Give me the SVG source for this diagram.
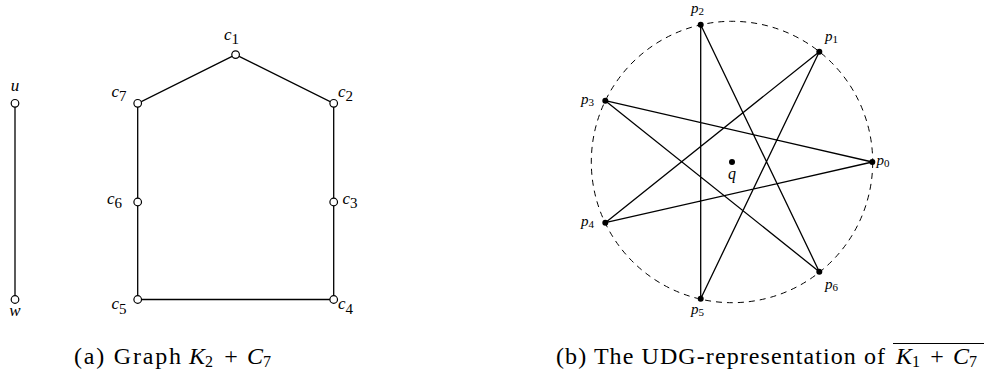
<svg xmlns="http://www.w3.org/2000/svg" width="984" height="372" viewBox="0 0 984 372">
<style>
  .e { stroke: #000; stroke-width: 1.3; fill: none; }
  .o { fill: #fff; stroke: #000; stroke-width: 1.2; }
  .f { fill: #000; }
  .lbl { font-family: "Liberation Serif", "DejaVu Serif", serif; font-style: italic; font-size: 17px; fill: #000; }
  .sub { font-style: normal; font-size: 15px; }
  .pl { font-size: 15px; }
  .ps { font-style: normal; font-size: 11px; }
  .cap { font-family: "Liberation Serif", "DejaVu Serif", serif; font-size: 24px; fill: #000; }
  .it { font-style: italic; }
  .cps { font-size: 16px; }
  .cs { font-size: 16px; }
</style>
<rect width="984" height="372" fill="#fff"/>
<g id="edges-a">
  <line class="e" x1="15" y1="103.3" x2="15" y2="299.5"/>
  <polyline class="e" points="235.6,54.6 333.7,103.3 333.7,299.5 137.7,299.5 137.7,103.3 235.6,54.6"/>
</g>
<g id="edges-b">
  <circle cx="732" cy="162" r="140.7" fill="none" stroke="#000" stroke-width="1" stroke-dasharray="6,5"/>
  <polygon class="e" points="872.3,162 605.3,100.7 819.3,271.7 700.7,24.7 700.7,298.7 819.3,51.7 605.3,222.7"/>
</g>
<g id="u"><circle class="o" cx="15" cy="103.3" r="3.8"/><text class="lbl" x="15" y="91" text-anchor="middle">u</text></g>
<g id="w"><circle class="o" cx="15" cy="299.5" r="3.8"/><text class="lbl" x="15" y="316" text-anchor="middle">w</text></g>
<g id="c1"><circle class="o" cx="235.6" cy="54.6" r="3.8"/><text class="lbl" x="224" y="40">c<tspan class="sub" dy="4">1</tspan></text></g>
<g id="c2"><circle class="o" cx="333.7" cy="103.3" r="3.8"/><text class="lbl" x="338" y="97">c<tspan class="sub" dy="4">2</tspan></text></g>
<g id="c3"><circle class="o" cx="333.7" cy="202" r="3.8"/><text class="lbl" x="342.5" y="204">c<tspan class="sub" dy="4">3</tspan></text></g>
<g id="c4"><circle class="o" cx="333.7" cy="299.5" r="3.8"/><text class="lbl" x="338" y="309">c<tspan class="sub" dy="5">4</tspan></text></g>
<g id="c5"><circle class="o" cx="137.7" cy="299.5" r="3.8"/><text class="lbl" x="111.5" y="309">c<tspan class="sub" dy="5">5</tspan></text></g>
<g id="c6"><circle class="o" cx="137.7" cy="202" r="3.8"/><text class="lbl" x="107" y="204">c<tspan class="sub" dy="4">6</tspan></text></g>
<g id="c7"><circle class="o" cx="137.7" cy="103.3" r="3.8"/><text class="lbl" x="111.5" y="97">c<tspan class="sub" dy="4">7</tspan></text></g>
<g id="p0"><circle class="f" cx="872.3" cy="162" r="3"/><text class="lbl pl" x="876.5" y="165">p<tspan class="ps" dy="2">0</tspan></text></g>
<g id="p1"><circle class="f" cx="819.3" cy="51.7" r="3"/><text class="lbl pl" x="825" y="41">p<tspan class="ps" dy="2">1</tspan></text></g>
<g id="p2"><circle class="f" cx="700.7" cy="24.7" r="3"/><text class="lbl pl" x="691" y="13">p<tspan class="ps" dy="2">2</tspan></text></g>
<g id="p3"><circle class="f" cx="605.3" cy="100.7" r="3"/><text class="lbl pl" x="581" y="104">p<tspan class="ps" dy="2">3</tspan></text></g>
<g id="p4"><circle class="f" cx="605.3" cy="222.7" r="3"/><text class="lbl pl" x="581" y="226">p<tspan class="ps" dy="2">4</tspan></text></g>
<g id="p5"><circle class="f" cx="700.7" cy="298.7" r="3"/><text class="lbl pl" x="691" y="314">p<tspan class="ps" dy="2">5</tspan></text></g>
<g id="p6"><circle class="f" cx="819.3" cy="271.7" r="3"/><text class="lbl pl" x="825" y="289">p<tspan class="ps" dy="2">6</tspan></text></g>
<g id="q"><circle class="f" cx="732" cy="162" r="3"/><text class="lbl cs" x="732" y="179" text-anchor="middle">q</text></g>
<g id="caption-a">
  <text class="cap" x="74" y="364" textLength="107" lengthAdjust="spacing">(a) Graph</text>
  <text class="cap it" x="189" y="364">K</text>
  <text class="cap cps" x="205" y="367">2</text>
  <text class="cap" x="231" y="364" text-anchor="middle">+</text>
  <text class="cap it" x="247" y="364">C</text>
  <text class="cap cps" x="263" y="367">7</text>
</g>
<g id="caption-b">
  <text class="cap" x="556" y="364" textLength="329" lengthAdjust="spacing">(b) The UDG-representation of</text>
  <text class="cap it" x="896" y="364">K</text>
  <text class="cap cps" x="912" y="367">1</text>
  <text class="cap" x="937" y="364" text-anchor="middle">+</text>
  <text class="cap it" x="953" y="364">C</text>
  <text class="cap cps" x="969" y="367">7</text>
  <line x1="893" y1="343.5" x2="984" y2="343.5" stroke="#000" stroke-width="1"/>
</g>
</svg>
